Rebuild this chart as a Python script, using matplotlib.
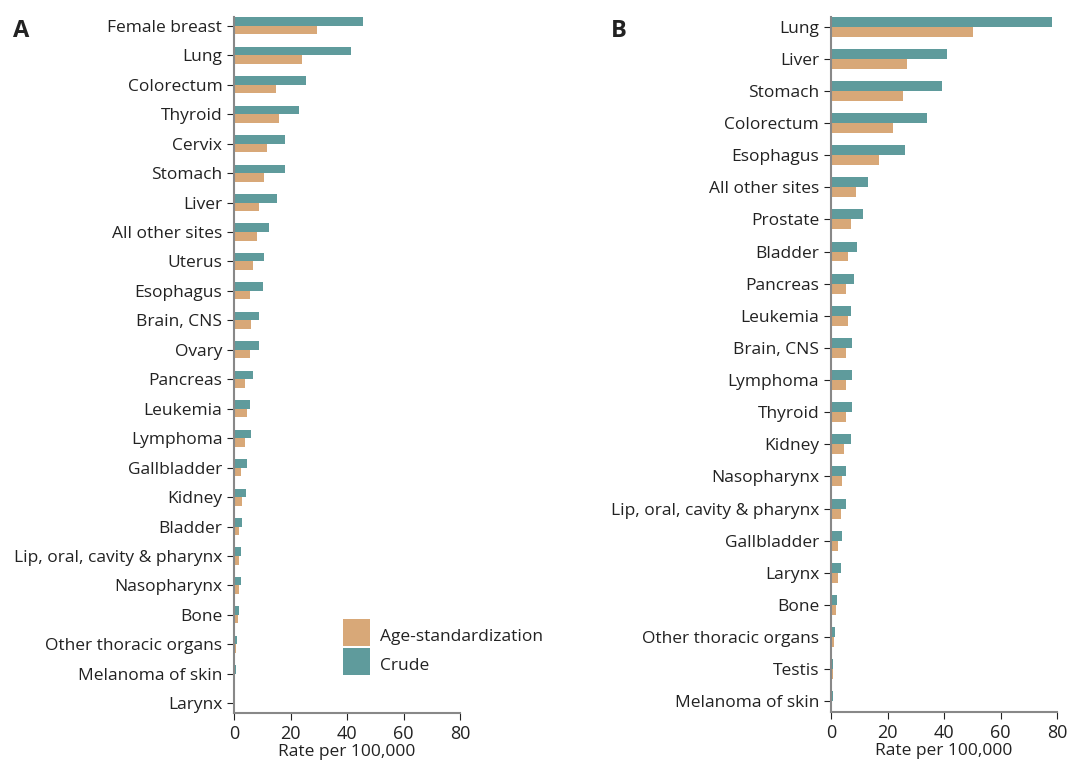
import matplotlib.pyplot as plt
import matplotlib.patches as mpatches
from matplotlib.container import BarContainer
from matplotlib.legend_handler import HandlerPatch, update_from_first_child
import numpy as np

plt.rcParams['font.family'] = ['Open Sans', 'DejaVu Sans']

# panel A: women
sites_a = ["Female breast", "Lung", "Colorectum", "Thyroid", "Cervix", "Stomach",
           "Liver", "All other sites", "Uterus", "Esophagus", "Brain, CNS", "Ovary",
           "Pancreas", "Leukemia", "Lymphoma", "Gallbladder", "Kidney", "Bladder",
           "Lip, oral, cavity & pharynx", "Nasopharynx", "Bone",
           "Other thoracic organs", "Melanoma of skin", "Larynx"]
crude_a = [45.7, 41.4, 25.5, 23.0, 18.0, 18.0, 15.2, 12.4, 10.6, 10.3, 8.8, 8.8,
           6.7, 5.7, 6.0, 4.6, 4.2, 2.8, 2.5, 2.5, 1.8, 1.1, 0.7, 0.4]
asr_a = [29.4, 24.1, 14.9, 15.9, 11.7, 10.6, 8.8, 8.1, 6.7, 5.7, 6.0, 5.7,
         3.9, 4.6, 3.9, 2.5, 2.8, 1.8, 1.8, 1.8, 1.4, 0.7, 0.4, 0.3]

# panel B: men
sites_b = ["Lung", "Liver", "Stomach", "Colorectum", "Esophagus", "All other sites",
           "Prostate", "Bladder", "Pancreas", "Leukemia", "Brain, CNS", "Lymphoma",
           "Thyroid", "Kidney", "Nasopharynx", "Lip, oral, cavity & pharynx",
           "Gallbladder", "Larynx", "Bone", "Other thoracic organs", "Testis",
           "Melanoma of skin"]
crude_b = [78.2, 41.1, 39.3, 34.0, 26.2, 13.1, 11.3, 9.2, 8.1, 7.1, 7.4, 7.4,
           7.4, 7.1, 5.3, 5.3, 4.0, 3.5, 2.1, 1.4, 0.7, 0.7]
asr_b = [50.3, 26.9, 25.5, 21.9, 17.0, 8.8, 7.1, 6.0, 5.3, 6.0, 5.3, 5.3,
         5.3, 4.6, 3.9, 3.5, 2.5, 2.5, 1.8, 1.1, 0.7, 0.4]

teal = "#5f9b9c"
tan = "#d8a878"
txt = "#222222"

fig = plt.figure(figsize=(10.69, 7.6), dpi=100)
ax_a = fig.add_axes([0.219, 0.0618, 0.2114, 0.9158])
ax_b = fig.add_axes([0.7774, 0.0632, 0.2114, 0.9145])


def draw_panel(ax, sites, crude, asr, h):
    y = np.arange(len(sites))
    ax.barh(y + h / 2, asr, height=h, color=tan, label="Age-standardization")
    ax.barh(y - h / 2, crude, height=h, color=teal, label="Crude")
    ax.set_yticks(y)
    ax.set_yticklabels(sites, fontsize=12.5)
    ax.set_ylim(len(sites) - 1 + 0.33, -0.3)
    ax.set_xlim(0, 80)
    ax.set_xticks([0, 20, 40, 60, 80])
    ax.tick_params(axis='x', labelsize=13, colors=txt, length=5)
    ax.tick_params(axis='y', colors=txt, length=5, labelcolor=txt)
    ax.set_xlabel("Rate per 100,000", fontsize=12.5, color=txt, labelpad=1)
    for s in ['top', 'right']:
        ax.spines[s].set_visible(False)
    for s in ['left', 'bottom']:
        ax.spines[s].set_color('#888888')
        ax.spines[s].set_linewidth(1.5)


draw_panel(ax_a, sites_a, crude_a, asr_a, 0.29)
draw_panel(ax_b, sites_b, crude_b, asr_b, 0.31)


# square legend keys filling the whole handle box
def full_box(legend, orig_handle, xdescent, ydescent, width, height, fontsize):
    return mpatches.Rectangle((-xdescent, -ydescent), width, height + ydescent)


box_handler = HandlerPatch(patch_func=full_box, update_func=update_from_first_child)
leg = ax_a.legend(loc='lower left', bbox_to_anchor=(0.45, 0.045), frameon=False,
                  fontsize=12.5, handlelength=1.55, handleheight=1.55,
                  handletextpad=0.6, labelspacing=0.4, borderaxespad=0,
                  handler_map={BarContainer: box_handler})
for t in leg.get_texts():
    t.set_color(txt)

fig.text(0.012, 0.975, "A", fontsize=17, fontweight='bold', va='top', color=txt)
fig.text(0.571, 0.975, "B", fontsize=17, fontweight='bold', va='top', color=txt)

fig.savefig("out.png", dpi=100)
